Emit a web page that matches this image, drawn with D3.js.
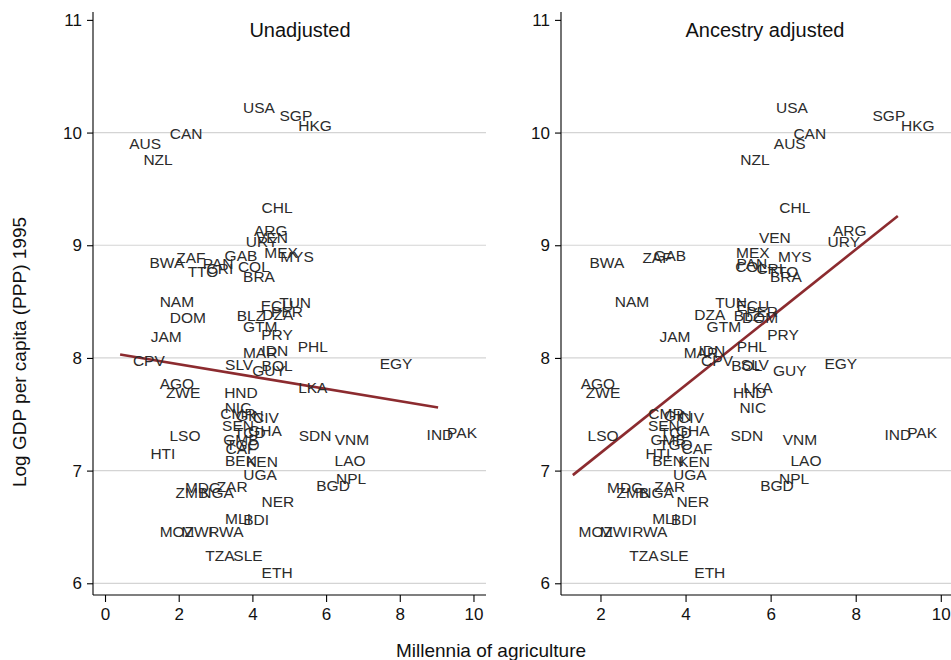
<!DOCTYPE html>
<html>
<head>
<meta charset="utf-8">
<script src="https://cdn.jsdelivr.net/npm/d3@7/dist/d3.min.js"></script>
<style>
  body { margin: 0; background: #fff; }
  text { font-family: "Liberation Sans", Arial, sans-serif; }
</style>
</head>
<body>
<div id="chart"></div>
<script>
// Country codes, log GDP 1995, millennia of agriculture (raw / ancestry adjusted)
const countries = ['USA','SGP','HKG','CAN','AUS','NZL','CHL','ARG','URY','VEN','MEX','MYS','GAB','COL','BRA','BWA','ZAF','PAN','TTO','CRI',
  'NAM','DOM','JAM','CPV','ECU','TUN','DZA','BLZ','PER','GTM','PRY','PHL','IDN','MAR','SLV','BOL','GUY','LKA','AGO','ZWE','HND','EGY','IND','PAK',
  'SDN','VNM','LAO','NPL','BGD','LSO','HTI','NIC','CMR','GIN','CIV','SEN','GHA','TCD','GMB','TGO','CAF','BEN','KEN','UGA',
  'MDG','ZMB','NGA','ZAR','NER','MLI','BDI','MOZ','MWI','RWA','TZA','SLE','ETH']
const gdp = [10.22,10.15,10.06,9.99,9.90,9.76,9.34,9.13,9.03,9.07,8.94,8.90,8.91,8.81,8.72,8.85,8.89,8.84,8.77,8.79,
  8.50,8.36,8.19,7.98,8.47,8.49,8.39,8.38,8.41,8.28,8.21,8.10,8.07,8.05,7.94,7.93,7.89,7.74,7.77,7.69,7.69,7.95,7.32,7.34,
  7.31,7.28,7.09,6.93,6.87,7.31,7.15,7.56,7.51,7.49,7.47,7.40,7.36,7.34,7.28,7.23,7.20,7.09,7.08,6.97,
  6.85,6.81,6.81,6.86,6.73,6.58,6.57,6.46,6.46,6.46,6.25,6.25,6.10]
const millenniaRaw = [4.18,5.18,5.70,2.20,1.09,1.44,4.67,4.50,4.26,4.53,4.78,5.21,3.69,4.04,4.18,1.68,2.33,3.07,2.66,3.12,
  1.95,2.25,1.66,1.19,4.67,5.16,4.69,3.96,4.94,4.21,4.67,5.64,4.61,4.21,3.64,4.67,4.45,5.64,1.95,2.12,3.69,7.90,9.09,9.69,
  5.70,6.70,6.65,6.68,6.19,2.17,1.57,3.61,3.61,3.93,4.37,3.61,4.34,3.93,3.69,3.74,3.69,3.69,4.26,4.21,
  2.66,2.36,3.04,3.45,4.69,3.61,4.10,1.95,2.50,3.28,3.12,3.88,4.67]
const millenniaAdj = [6.50,8.78,9.46,6.92,6.45,5.63,6.57,7.86,7.72,6.10,5.58,6.57,3.63,5.54,6.36,2.15,3.33,5.56,6.29,5.98,
  2.74,5.75,3.75,4.74,5.58,5.07,4.57,5.47,5.80,4.90,6.29,5.56,4.62,4.36,5.63,5.44,6.45,5.70,1.94,2.06,5.51,7.65,8.99,9.56,
  5.44,6.69,6.83,6.55,6.15,2.06,3.35,5.58,3.54,3.82,4.13,3.49,4.17,3.77,3.59,3.77,4.27,3.59,4.20,4.10,
  2.58,2.76,3.33,3.63,4.17,3.52,3.96,1.89,2.36,3.16,3.02,3.73,4.57]

// Fitted lines (end points)
const fitRaw = [[0.41, 8.03], [9.04, 7.56]]
const fitAdj = [[1.35, 6.96], [8.99, 9.26]]

const yTicks = [6, 7, 8, 9, 10, 11]
const xTicksRaw = [0, 2, 4, 6, 8, 10]
const xTicksAdj = [2, 4, 6, 8, 10]

const width = 951, height = 660

const svg = d3.select('#chart').append('svg')
  .attr('width', width)
  .attr('height', height)

const y = d3.scaleLinear().domain([5.896, 11.07]).range([595, 12])

// Draw one panel
function drawPanel(opts) {
  let x = d3.scaleLinear().domain(opts.domain).range(opts.range)
  let g = svg.append('g')

  // Grid
  g.selectAll('.grid')
    .data(yTicks.filter(d => d < 11))
    .enter().append('line')
    .attr('x1', opts.range[0]).attr('x2', opts.range[1])
    .attr('y1', d => y(d)).attr('y2', d => y(d))
    .attr('stroke', '#d4d4d4')
    .attr('stroke-width', 1.2)

  // Axes
  let yAxis = d3.axisLeft(y).tickValues(yTicks).tickFormat(d3.format('d')).tickSize(6).tickPadding(5)
  g.append('g')
    .attr('transform', 'translate(' + opts.range[0] + ',0)')
    .call(yAxis)
    .call(a => a.select('.domain').attr('d', 'M0,' + y.range()[1] + 'V595'))

  let xAxis = d3.axisBottom(x).tickValues(opts.ticks).tickFormat(d3.format('d')).tickSize(7).tickPadding(6)
  g.append('g')
    .attr('transform', 'translate(0,595)')
    .call(xAxis)
    .call(a => a.select('.domain').attr('d', 'M' + opts.range[0] + ',0H' + opts.range[1]))

  g.selectAll('.domain, .tick line').attr('stroke', '#000').attr('stroke-width', 1.1)
  g.selectAll('.tick text')
    .attr('fill', '#111')
    .style('font-size', '17px')
    .style('font-family', '"Liberation Sans", Arial, sans-serif')

  // Title
  g.append('text')
    .attr('x', opts.titleX)
    .attr('y', 37)
    .attr('text-anchor', 'middle')
    .attr('fill', '#111')
    .style('font-size', '20px')
    .text(opts.title)

  // Fit line
  g.append('path')
    .datum(opts.fit)
    .attr('d', d3.line().x(d => x(d[0])).y(d => y(d[1])))
    .attr('fill', 'none')
    .attr('stroke', '#8c2b2f')
    .attr('stroke-width', 2.6)

  // Country labels
  g.selectAll('.lab')
    .data(countries)
    .enter().append('text')
    .attr('x', (d, i) => x(opts.xs[i]))
    .attr('y', (d, i) => y(gdp[i]))
    .attr('dy', '0.36em')
    .attr('text-anchor', 'middle')
    .attr('fill', '#2b2b2b')
    .style('font-size', '15.5px')
    .text(d => d)
}

drawPanel({
  domain: [-0.326, 10.34], range: [93, 486], ticks: xTicksRaw,
  xs: millenniaRaw, fit: fitRaw, title: 'Unadjusted', titleX: 300
})

drawPanel({
  domain: [1.072, 10.24], range: [561, 951], ticks: xTicksAdj,
  xs: millenniaAdj, fit: fitAdj, title: 'Ancestry adjusted', titleX: 765
})

// Axis titles
svg.append('text')
  .attr('transform', 'translate(26,352) rotate(-90)')
  .attr('text-anchor', 'middle')
  .attr('fill', '#111')
  .style('font-size', '19px')
  .text('Log GDP per capita (PPP) 1995')

svg.append('text')
  .attr('x', 491)
  .attr('y', 657)
  .attr('text-anchor', 'middle')
  .attr('fill', '#111')
  .style('font-size', '19px')
  .text('Millennia of agriculture')
</script>
</body>
</html>
